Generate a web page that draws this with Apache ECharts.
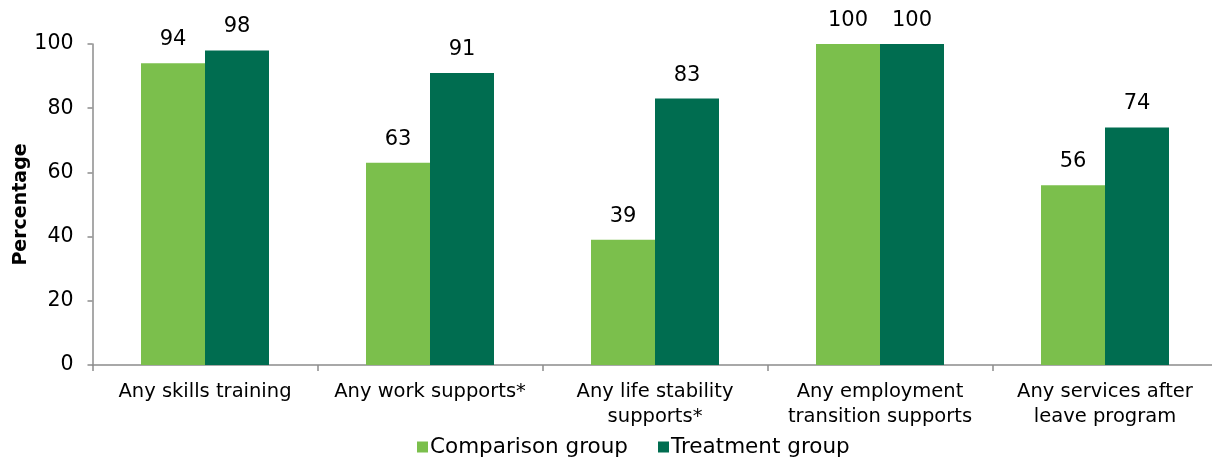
<!DOCTYPE html>
<html>
<head>
<meta charset="utf-8">
<script src="https://cdn.jsdelivr.net/npm/echarts@6/dist/echarts.min.js"></script>
<style>
html,body{margin:0;padding:0;background:#fff;}
#chart{width:1212px;height:457px;}
</style>
</head>
<body>
<div id="chart"></div>
<script>
var categories = ["Any skills training", "Any work supports*", "Any life stability\nsupports*", "Any employment\ntransition supports", "Any services after\nleave program"];
var comparisonValues = [94, 63, 39, 100, 56];
var treatmentValues = [98, 91, 83, 100, 74];
var seriesNames = ["Comparison group", "Treatment group"];
var yTicks = [0, 20, 40, 60, 80, 100];

var FONT = "'DejaVu Sans', 'Liberation Sans', Arial, sans-serif";
var chart = echarts.init(document.getElementById('chart'), null, {renderer: 'canvas'});
var labelStyle = {show: true, position: 'top', distance: 13, color: '#000', fontSize: 21, fontFamily: FONT};
chart.setOption({
  animation: false,
  backgroundColor: '#fff',
  grid: {left: 92.5, right: -5.5, top: 44, bottom: 92, containLabel: false, outerBoundsMode: 'none'},
  legend: {
    data: seriesNames,
    left: 412, top: 431,
    itemWidth: 11, itemHeight: 11, itemGap: 30,
    icon: 'rect',
    textStyle: {color: '#000', fontSize: 21.5, fontFamily: FONT, padding: [0, 0, 0, -3]}
  },
  xAxis: {
    type: 'category',
    data: categories,
    axisLine: {lineStyle: {color: '#8c8c8c', width: 1.5}},
    axisTick: {show: true, length: 6, lineStyle: {color: '#8c8c8c', width: 1.5}},
    axisLabel: {color: '#000', fontSize: 19.5, fontFamily: FONT, margin: 14, lineHeight: 25, interval: 0}
  },
  yAxis: {
    type: 'value',
    min: yTicks[0], max: yTicks[yTicks.length - 1], interval: 20,
    name: 'Percentage',
    nameLocation: 'middle',
    nameGap: 62,
    nameMoveOverlap: false,
    nameRotate: 90,
    nameTextStyle: {color: '#000', fontSize: 19, fontWeight: 'bold', fontFamily: FONT},
    axisLine: {show: true, lineStyle: {color: '#8c8c8c', width: 1.5}},
    axisTick: {show: true, length: 5, lineStyle: {color: '#8c8c8c', width: 1.5}},
    splitLine: {show: false},
    axisLabel: {color: '#000', fontSize: 20.5, fontFamily: FONT, margin: 19}
  },
  series: [
    {name: seriesNames[0], type: 'bar', data: comparisonValues, barWidth: 64, barGap: '0%',
     itemStyle: {color: '#7BBF4C'}, label: labelStyle},
    {name: seriesNames[1], type: 'bar', data: treatmentValues, barWidth: 64, barGap: '0%',
     itemStyle: {color: '#006D50'}, label: labelStyle}
  ]
});
</script>
</body>
</html>
